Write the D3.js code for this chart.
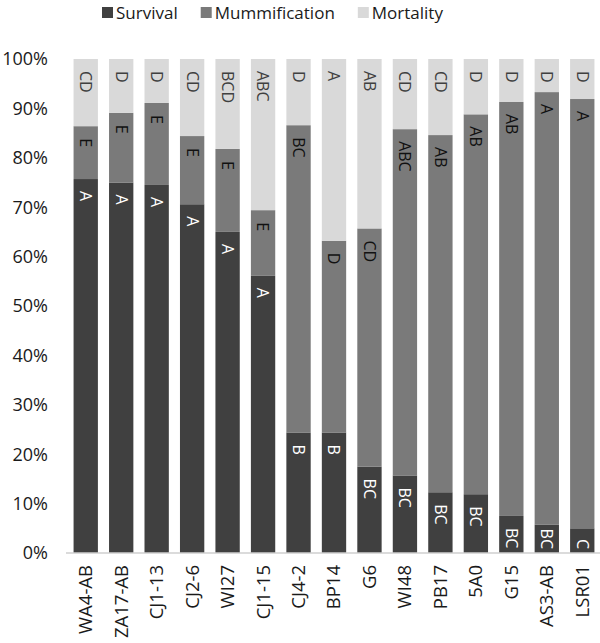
<!DOCTYPE html>
<html>
  <head>
    <title>Survival, mummification and mortality</title>
    <meta charset="utf-8">
    <script src="https://cdn.jsdelivr.net/npm/d3@7/dist/d3.min.js"></script>
    <style>
      body { margin: 0; background: #fff; }
      .chart text { font-family: "Open Sans", sans-serif; }
    </style>
  </head>
  <body>
    <svg class="chart"></svg>
    <script>

    // data (percent of each bar)
    var categories = ["WA4-AB", "ZA17-AB", "CJ1-13", "CJ2-6", "WI27", "CJ1-15", "CJ4-2", "BP14",
                      "G6", "WI48", "PB17", "5A0", "G15", "AS3-AB", "LSR01"];
    var survival      = [75.7, 75.0, 74.5, 70.6, 65.0, 56.1, 24.4, 24.4, 17.5, 15.7, 12.3, 11.9, 7.5, 5.7, 5.0];
    var mummification = [10.7, 14.1, 16.6, 13.8, 16.8, 13.3, 62.2, 38.8, 48.2, 70.1, 72.3, 76.9, 83.8, 87.6, 86.9];
    var mortality     = [13.6, 10.9, 8.9, 15.6, 18.2, 30.6, 13.4, 36.8, 34.3, 14.2, 15.4, 11.2, 8.7, 6.7, 8.1];

    var survivalLetters      = ["A", "A", "A", "A", "A", "A", "B", "B", "BC", "BC", "BC", "BC", "BC", "BC", "C"];
    var mummificationLetters = ["E", "E", "E", "E", "E", "E", "BC", "D", "CD", "ABC", "AB", "AB", "AB", "A", "A"];
    var mortalityLetters     = ["CD", "D", "D", "CD", "BCD", "ABC", "D", "A", "AB", "CD", "CD", "D", "D", "D", "D"];

    var seriesNames = ["Survival", "Mummification", "Mortality"];
    var yTicks = [0, 10, 20, 30, 40, 50, 60, 70, 80, 90, 100];

    var width = 600,
        height = 643;

    var colors = { "Survival": "#404040", "Mummification": "#7a7a7a", "Mortality": "#d9d9d9" };
    var labelColors = { "Survival": "#ffffff", "Mummification": "#111111", "Mortality": "#404040" };

    var rows = categories.map(function(c, i) {
      return { cat: c, Survival: survival[i], Mummification: mummification[i], Mortality: mortality[i] };
    });
    var letters = { "Survival": survivalLetters, "Mummification": mummificationLetters, "Mortality": mortalityLetters };

    var x = d3.scaleBand()
      .domain(categories)
      .range([68, 600])
      .paddingInner(0.314)
      .paddingOuter(0.157);

    var y = d3.scaleLinear()
      .domain([0, 100])
      .range([553, 59]);

    var chart = d3.select(".chart")
      .attr("width", width)
      .attr("height", height);

    var stacked = d3.stack().keys(seriesNames)(rows);

    var layer = chart.selectAll("g.layer")
      .data(stacked)
      .enter().append("g")
      .attr("class", "layer")
      .attr("fill", function(d) { return colors[d.key]; });

    layer.selectAll("rect")
      .data(function(d) { return d; })
      .enter().append("rect")
      .attr("x", function(d) { return x(d.data.cat); })
      .attr("width", x.bandwidth())
      .attr("y", function(d) { return y(d[1]); })
      .attr("height", function(d) { return y(d[0]) - y(d[1]); });

    // significance letters, rotated, near the top of each segment
    // (pushed up when they would run past the bottom of the bar)
    stacked.forEach(function(s) {
      chart.append("g").selectAll("text")
        .data(s)
        .enter().append("text")
        .attr("dy", "0.35em")
        .attr("fill", labelColors[s.key])
        .style("font-size", "16px")
        .text(function(d, i) { return letters[s.key][i]; })
        .attr("transform", function(d) {
          var len = this.getComputedTextLength();
          var top = Math.min(y(d[1]) + 12, y(d[0]) - 4 - len);
          return "translate(" + (x(d.data.cat) + x.bandwidth() / 2) + "," + top + ") rotate(90)";
        });
    });

    // y axis labels
    chart.append("g").selectAll("text")
      .data(yTicks)
      .enter().append("text")
      .attr("x", 48)
      .attr("y", function(d) { return y(d); })
      .attr("dy", "0.35em")
      .attr("text-anchor", "end")
      .attr("fill", "#1a1a1a")
      .style("font-size", "18px")
      .text(function(d) { return d + "%"; });

    // baseline
    chart.append("line")
      .attr("x1", 66).attr("x2", 600)
      .attr("y1", y(0)).attr("y2", y(0))
      .attr("stroke", "#cfcfcf")
      .attr("stroke-width", 1.5);

    // category labels
    chart.append("g").selectAll("text")
      .data(categories)
      .enter().append("text")
      .attr("transform", function(d) {
        return "translate(" + (x(d) + x.bandwidth() / 2) + ",565) rotate(-90)";
      })
      .attr("dy", "0.35em")
      .attr("text-anchor", "end")
      .attr("fill", "#1a1a1a")
      .style("font-size", "18.5px")
      .text(function(d) { return d; });

    // legend
    var legend = chart.append("g");
    var lx = 102;
    seriesNames.forEach(function(name) {
      legend.append("rect")
        .attr("x", lx).attr("y", 7)
        .attr("width", 11).attr("height", 11)
        .attr("fill", colors[name]);
      var t = legend.append("text")
        .attr("x", lx + 14).attr("y", 18.5)
        .attr("fill", "#1a1a1a")
        .style("font-size", "17px")
        .text(name);
      lx += 14 + t.node().getComputedTextLength() + 23;
    });

    </script>
  </body>
</html>
